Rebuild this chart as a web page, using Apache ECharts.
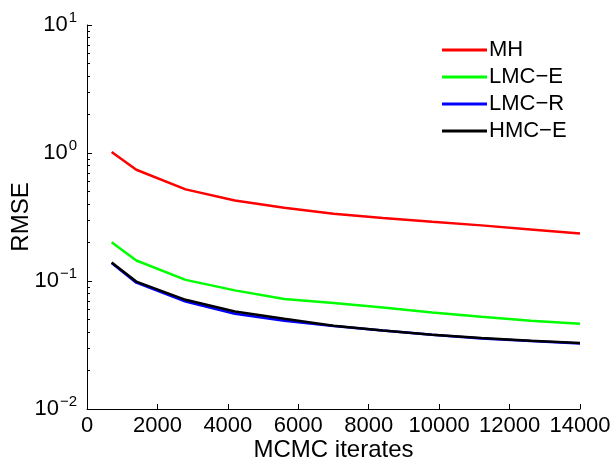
<!DOCTYPE html>
<html>
<head>
<meta charset="utf-8">
<script src="https://cdn.jsdelivr.net/npm/echarts@6/dist/echarts.min.js"></script>
<style>
  html, body { margin: 0; padding: 0; background: #fff; }
  #chart { width: 612px; height: 463px; }
</style>
</head>
<body>
<div id="chart"></div>
<script>
// Number of MCMC iterates at which the error was evaluated
var iterates = [700, 1400, 2800, 4200, 5600, 7000, 8400, 9800, 11200, 12600, 14000];

// RMSE of each sampler
var rmseMH   = [1.02, 0.74, 0.52, 0.425, 0.373, 0.335, 0.31, 0.29, 0.272, 0.253, 0.235];
var rmseLMCE = [0.201, 0.1445, 0.102, 0.0845, 0.0723, 0.0673, 0.0621, 0.0568, 0.0526, 0.049, 0.0463];
var rmseLMCR = [0.138, 0.097, 0.069, 0.0555, 0.049, 0.0445, 0.041, 0.038, 0.0356, 0.034, 0.0325];
var rmseHMCE = [0.1396, 0.099, 0.0713, 0.0578, 0.0507, 0.0447, 0.0411, 0.038, 0.0358, 0.0341, 0.0328];

var seriesNames = ['MH', 'LMC\u2212E', 'LMC\u2212R', 'HMC\u2212E'];
var seriesColors = ['#ff0000', '#00ff00', '#0000ff', '#000000'];
var seriesValues = [rmseMH, rmseLMCE, rmseLMCR, rmseHMCE];

// Axis ticks
var xTicks = { min: 0, max: 14000, step: 2000 };
var yDecades = { min: -2, max: 1 };
// minor ticks at 2..9 within each decade, given as exponents
var yMinorExponents = [];
for (var d = yDecades.min; d < yDecades.max; d++) {
  for (var k = 2; k <= 9; k++) yMinorExponents.push(d + Math.log10(k));
}

var FONT = '"Liberation Sans", Arial, Helvetica, sans-serif';

function pairs(xs, ys) {
  return xs.map(function (x, i) { return [x, ys[i]]; });
}

function powerLabel(v) {
  var e = Math.round(Math.log10(v));
  var s = e < 0 ? '\u2212' + (-e) : String(e);
  return '{b|10}{s|' + s + '}';
}

var chart = echarts.init(document.getElementById('chart'), null, { renderer: 'canvas' });

chart.setOption({
  animation: false,
  backgroundColor: '#ffffff',
  textStyle: { fontFamily: FONT, color: '#000' },
  grid: { left: 87, right: 32, top: 25, bottom: 54, containLabel: false, outerBoundsMode: 'none' },
  legend: {
    left: 437,
    top: 34,
    orient: 'vertical',
    itemWidth: 45,
    itemHeight: 3,
    itemGap: 5,
    icon: 'rect',
    textStyle: { fontFamily: FONT, fontSize: 22, color: '#000', padding: [0, 0, 0, -3] },
    data: seriesNames
  },
  xAxis: {
    type: 'value',
    min: xTicks.min,
    max: xTicks.max,
    interval: xTicks.step,
    name: 'MCMC iterates',
    nameLocation: 'middle',
    nameGap: 29,
    nameMoveOverlap: false,
    nameTextStyle: { fontFamily: FONT, fontSize: 24, color: '#000' },
    axisLine: { show: true, onZero: false, lineStyle: { color: '#000', width: 1 } },
    axisTick: { show: true, inside: true, length: 5, lineStyle: { color: '#000' } },
    axisLabel: {
      fontFamily: FONT, fontSize: 22, color: '#000', margin: 6,
      formatter: function (v) { return String(v); }
    },
    splitLine: { show: false }
  },
  yAxis: [
    {
      type: 'log',
      logBase: 10,
      min: Math.pow(10, yDecades.min),
      max: Math.pow(10, yDecades.max),
      interval: 1,
      name: 'RMSE',
      nameLocation: 'middle',
      nameGap: 54,
      nameMoveOverlap: false,
      nameTextStyle: { fontFamily: FONT, fontSize: 24, color: '#000' },
      axisLine: { show: true, onZero: false, lineStyle: { color: '#000', width: 1 } },
      axisTick: { show: true, inside: true, length: 5, lineStyle: { color: '#000' } },
      axisLabel: {
        margin: 10,
        formatter: powerLabel,
        rich: {
          b: { fontFamily: FONT, fontSize: 22, color: '#000' },
          s: { fontFamily: FONT, fontSize: 15, color: '#000', verticalAlign: 'bottom', padding: [0, 0, 14, 1] }
        }
      },
      splitLine: { show: false }
    },
    {
      // exponent axis carrying the minor ticks of the log scale
      type: 'value',
      min: yDecades.min,
      max: yDecades.max,
      position: 'left',
      offset: 0,
      axisLine: { show: false, onZero: false },
      axisTick: { show: true, inside: true, length: 3, customValues: yMinorExponents, lineStyle: { color: '#000' } },
      axisLabel: { show: false },
      splitLine: { show: false }
    }
  ],
  series: seriesNames.map(function (name, i) {
    return {
      name: name,
      type: 'line',
      yAxisIndex: 0,
      data: pairs(iterates, seriesValues[i]),
      symbol: 'none',
      color: seriesColors[i],
      lineStyle: { color: seriesColors[i], width: 2.5 },
      z: 2 + i
    };
  })
});
</script>
</body>
</html>
